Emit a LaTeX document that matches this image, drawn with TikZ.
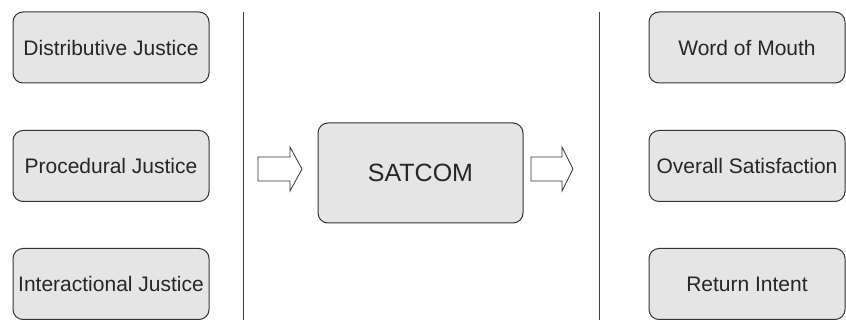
\documentclass[tikz,border=0pt]{standalone}
\usepackage{fontspec}
\setmainfont{Liberation Sans}
\begin{document}
\begin{tikzpicture}[x=1pt,y=-1pt,
  factor/.style={draw=black!80, fill=black!10, line width=1pt, rounded corners=10pt,
    minimum width=196pt, minimum height=71pt, inner sep=0pt,
    font=\fontsize{21}{24}\selectfont, text=black!85},
  core/.style={factor, minimum width=205pt, minimum height=100pt,
    font=\fontsize{25}{28}\selectfont},
  divider/.style={draw=black!75, line width=1pt},
  blockarrow/.style={draw=black!80, fill=white, line width=0.8pt, line join=miter}]
\useasboundingbox (0,0) rectangle (846,320);

% antecedents
\node[factor] (dj) at (111,47.5) {Distributive Justice};
\node[factor] (pj) at (111,166) {Procedural Justice};
\node[factor] (ij) at (111,284) {Interactional Justice};

% mediator
\node[core] (sat) at (420.5,173) {SATCOM};

% outcomes
\node[factor] (wom) at (747,47.5) {Word of Mouth};
\node[factor] (os) at (747,166) {Overall Satisfaction};
\node[factor] (ri) at (747,284) {Return Intent};

% separators
\coordinate (l1) at (243,12);
\coordinate (l2) at (243,320);
\coordinate (r1) at (599,12);
\coordinate (r2) at (599,320);
\draw[divider] (l1) -- (l2);
\draw[divider] (r1) -- (r2);

% block arrows into and out of SATCOM
\coordinate (a1) at (258,169);
\coordinate (a2) at (531,169);
\draw[blockarrow] (a1) ++(0,-12) -- ++(32,0) -- ++(0,-10) -- ++(12,22)
  -- ++(-12,22) -- ++(0,-10) -- ++(-32,0) -- cycle;
\draw[blockarrow] (a2) ++(0,-12) -- ++(31,0) -- ++(0,-10) -- ++(11,22)
  -- ++(-11,22) -- ++(0,-10) -- ++(-31,0) -- cycle;
\end{tikzpicture}
\end{document}
